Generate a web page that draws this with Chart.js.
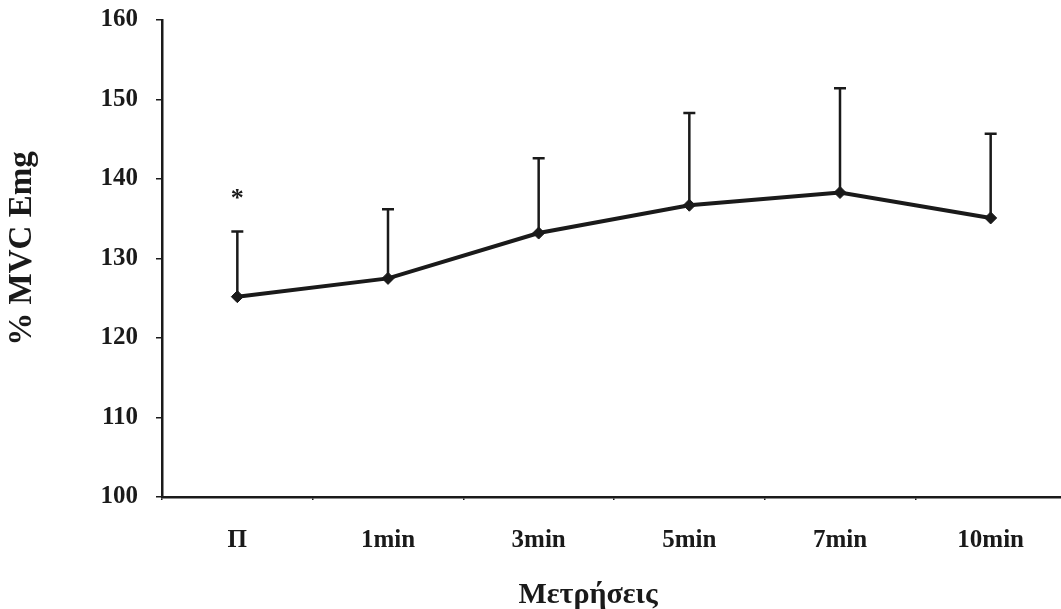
<!DOCTYPE html>
<html>
<head>
<meta charset="utf-8">
<script src="https://cdn.jsdelivr.net/npm/chart.js@4/dist/chart.umd.min.js"></script>
<style>
  html, body { margin: 0; padding: 0; background: #ffffff; overflow: hidden; }
  #wrap { width: 1061px; height: 609px; overflow: hidden; }
  canvas { display: block; }
</style>
</head>
<body>
<div id="wrap"><canvas id="c" width="1075" height="609"></canvas></div>
<script>
// Measurement points and % MVC EMG values
const categories = ['Π', '1min', '3min', '5min', '7min', '10min'];
const meanValues = [125.2, 127.5, 133.2, 136.7, 138.3, 135.1];
const sdValues   = [8.2, 8.7, 9.4, 11.6, 13.1, 10.6];
const sigMarks   = ['*', '', '', '', '', ''];
const yTicks     = [100, 110, 120, 130, 140, 150, 160];

const xTitle = 'Μετρήσεις';
const yTitle = '% MVC Emg';

const INK = '#1a1a1a';
const FONT = '"Liberation Serif", "Times New Roman", serif';

// Upward error bars, significance marks and axis titles
const extras = {
  id: 'extras',
  afterDatasetsDraw(chart) {
    const { ctx, scales: { x, y }, chartArea } = chart;
    ctx.save();
    ctx.strokeStyle = INK;
    ctx.lineWidth = 2.5;
    meanValues.forEach((m, i) => {
      const px = x.getPixelForValue(i);
      const y0 = y.getPixelForValue(m);
      const y1 = y.getPixelForValue(m + sdValues[i]);
      ctx.beginPath();
      ctx.moveTo(px, y0);
      ctx.lineTo(px, y1);
      ctx.moveTo(px - 6, y1);
      ctx.lineTo(px + 6, y1);
      ctx.stroke();
      if (sigMarks[i]) {
        ctx.fillStyle = INK;
        ctx.font = 'bold 26px ' + FONT;
        ctx.textAlign = 'center';
        ctx.textBaseline = 'middle';
        ctx.fillText(sigMarks[i], px, y1 - 32);
      }
    });
    ctx.fillStyle = INK;
    ctx.font = 'bold 30px ' + FONT;
    ctx.textAlign = 'center';
    ctx.textBaseline = 'alphabetic';
    ctx.fillText(xTitle, chartArea.left + 426, 603);

    ctx.translate(22, (chartArea.top + chartArea.bottom) / 2 - 10);
    ctx.rotate(-Math.PI / 2);
    ctx.textBaseline = 'middle';
    ctx.font = 'bold 33px ' + FONT;
    ctx.fillText(yTitle, 0, 0);
    ctx.restore();
  }
};

new Chart(document.getElementById('c'), {
  type: 'line',
  data: {
    labels: categories,
    datasets: [{
      data: meanValues,
      borderColor: INK,
      backgroundColor: INK,
      borderWidth: 4,
      pointStyle: 'rectRot',
      pointRadius: 6,
      pointBorderWidth: 1,
      tension: 0
    }]
  },
  options: {
    responsive: false,
    animation: false,
    layout: { padding: { top: 20, right: 9, left: 0, bottom: 0 } },
    plugins: { legend: { display: false }, tooltip: { enabled: false } },
    scales: {
      x: {
        type: 'category',
        offset: true,
        grid: { offset: true, drawOnChartArea: false, tickLength: 3, color: INK, lineWidth: 1.5 },
        border: { color: INK, width: 2.5 },
        ticks: { color: INK, padding: 26, font: { family: FONT, size: 25, weight: 'bold' } },
        afterFit(s) { s.height = 112; s.paddingLeft = 0; s.paddingRight = 0; }
      },
      y: {
        min: 100,
        max: 160,
        afterBuildTicks(s) { s.ticks = yTicks.map(v => ({ value: v })); },
        grid: { drawOnChartArea: false, tickLength: 6, color: INK, lineWidth: 1.5 },
        border: { color: INK, width: 2.5 },
        ticks: { color: INK, padding: 18, font: { family: FONT, size: 25, weight: 'bold' } },
        afterFit(s) { s.width = 162; s.paddingTop = 0; s.paddingBottom = 0; }
      }
    }
  },
  plugins: [extras]
});
</script>
</body>
</html>
